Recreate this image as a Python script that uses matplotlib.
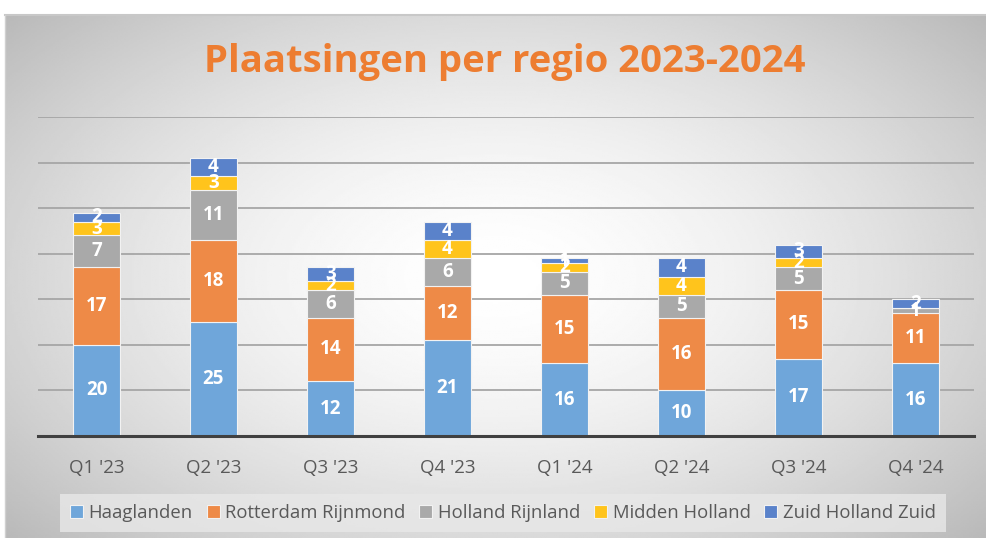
import matplotlib
matplotlib.use("Agg")
import matplotlib.pyplot as plt
import numpy as np

QUARTERS = ["Q1 '23", "Q2 '23", "Q3 '23", "Q4 '23", "Q1 '24", "Q2 '24", "Q3 '24", "Q4 '24"]
HAAGLANDEN = [20, 25, 12, 21, 16, 10, 17, 16]
ROTTERDAM = [17, 18, 14, 12, 15, 16, 15, 11]
HOLLAND_RIJNLAND = [7, 11, 6, 6, 5, 5, 5, 1]
MIDDEN_HOLLAND = [3, 3, 2, 4, 2, 4, 2, 0]
ZUID_HOLLAND_ZUID = [2, 4, 3, 4, 1, 4, 3, 2]

SERIES = [
    ("Haaglanden", HAAGLANDEN, "#6FA6DA"),
    ("Rotterdam Rijnmond", ROTTERDAM, "#EE8A47"),
    ("Holland Rijnland", HOLLAND_RIJNLAND, "#A9A9A9"),
    ("Midden Holland", MIDDEN_HOLLAND, "#FFC41C"),
    ("Zuid Holland Zuid", ZUID_HOLLAND_ZUID, "#5A82CA"),
]

W, H = 986, 538
fig = plt.figure(figsize=(W / 100, H / 100), dpi=100)

# radial gradient background inside the chart frame
bg = fig.add_axes([5 / W, 0, 1 - 5 / W, 1 - 15 / H])
yy, xx = np.mgrid[-1:1:300j, -1:1:500j]
r = np.sqrt((xx / 1.0) ** 2 + (yy / 1.1) ** 2)
grad = np.clip(1.0 - 0.17 * r ** 1.6, 0, 1)
bg.imshow(grad, cmap="gray", vmin=0, vmax=1, aspect="auto", extent=[0, 1, 0, 1])
bg.set_axis_off()
fig.add_artist(plt.Line2D([5 / W, 1], [1 - 15 / H] * 2, color="#C8C8C8", lw=1.5))
fig.add_artist(plt.Line2D([5 / W] * 2, [0, 1 - 15 / H], color="#D0D0D0", lw=1.0))

ax = fig.add_axes([38 / W, 1 - 436 / H, (974 - 38) / W, (436 - 117) / H])
ax.patch.set_alpha(0)
x = np.arange(len(QUARTERS))
bottom = np.zeros(len(QUARTERS))
for name, vals, col in SERIES:
    vals = np.array(vals, dtype=float)
    ax.bar(x, vals, 0.405, bottom=bottom, color=col, label=name,
           edgecolor="#F2F2F2", linewidth=0.8, zorder=3)
    for xi, b, v in zip(x, bottom, vals):
        if v > 0:
            ax.text(xi, b + v / 2, f"{int(v)}", ha="center", va="center",
                    color="white", fontsize=13.5, fontweight="bold",
                    family="Open Sans", zorder=4)
    bottom += vals

ax.set_xlim(-0.5, len(QUARTERS) - 0.5)
ax.set_ylim(0, 70)
ax.set_yticks(range(10, 71, 10))
ax.yaxis.grid(True, color="#A6A6A6", lw=1.3, zorder=0)
ax.tick_params(axis="y", left=False, labelleft=False)
ax.tick_params(axis="x", bottom=False, pad=13, labelsize=13.5, labelcolor="#595959")
ax.set_xticks(x)
ax.set_xticklabels(QUARTERS, family="Open Sans")
for s in ["top", "right", "left"]:
    ax.spines[s].set_visible(False)
ax.spines["bottom"].set_color("#404040")
ax.spines["bottom"].set_linewidth(2.2)
ax.spines["bottom"].set_zorder(5)

fig.text(505 / W, 1 - 62 / H, "Plaatsingen per regio 2023-2024", ha="center", va="center",
         color="#ED7D31", fontsize=27.5, fontweight="bold", family="Open Sans")

leg = fig.legend(loc="center", bbox_to_anchor=(503 / W, 1 - 513 / H), ncol=5,
                 frameon=True, handlelength=0.7, handleheight=0.7,
                 handletextpad=0.3, columnspacing=0.75, borderpad=0.35,
                 prop={"family": "Open Sans", "size": 13.3})
leg.get_frame().set_facecolor("#E8E8E8")
leg.get_frame().set_edgecolor("none")
leg.get_frame().set_boxstyle("square", pad=0.2)
for t in leg.get_texts():
    t.set_color("#595959")

fig.savefig("out.png", dpi=100)
